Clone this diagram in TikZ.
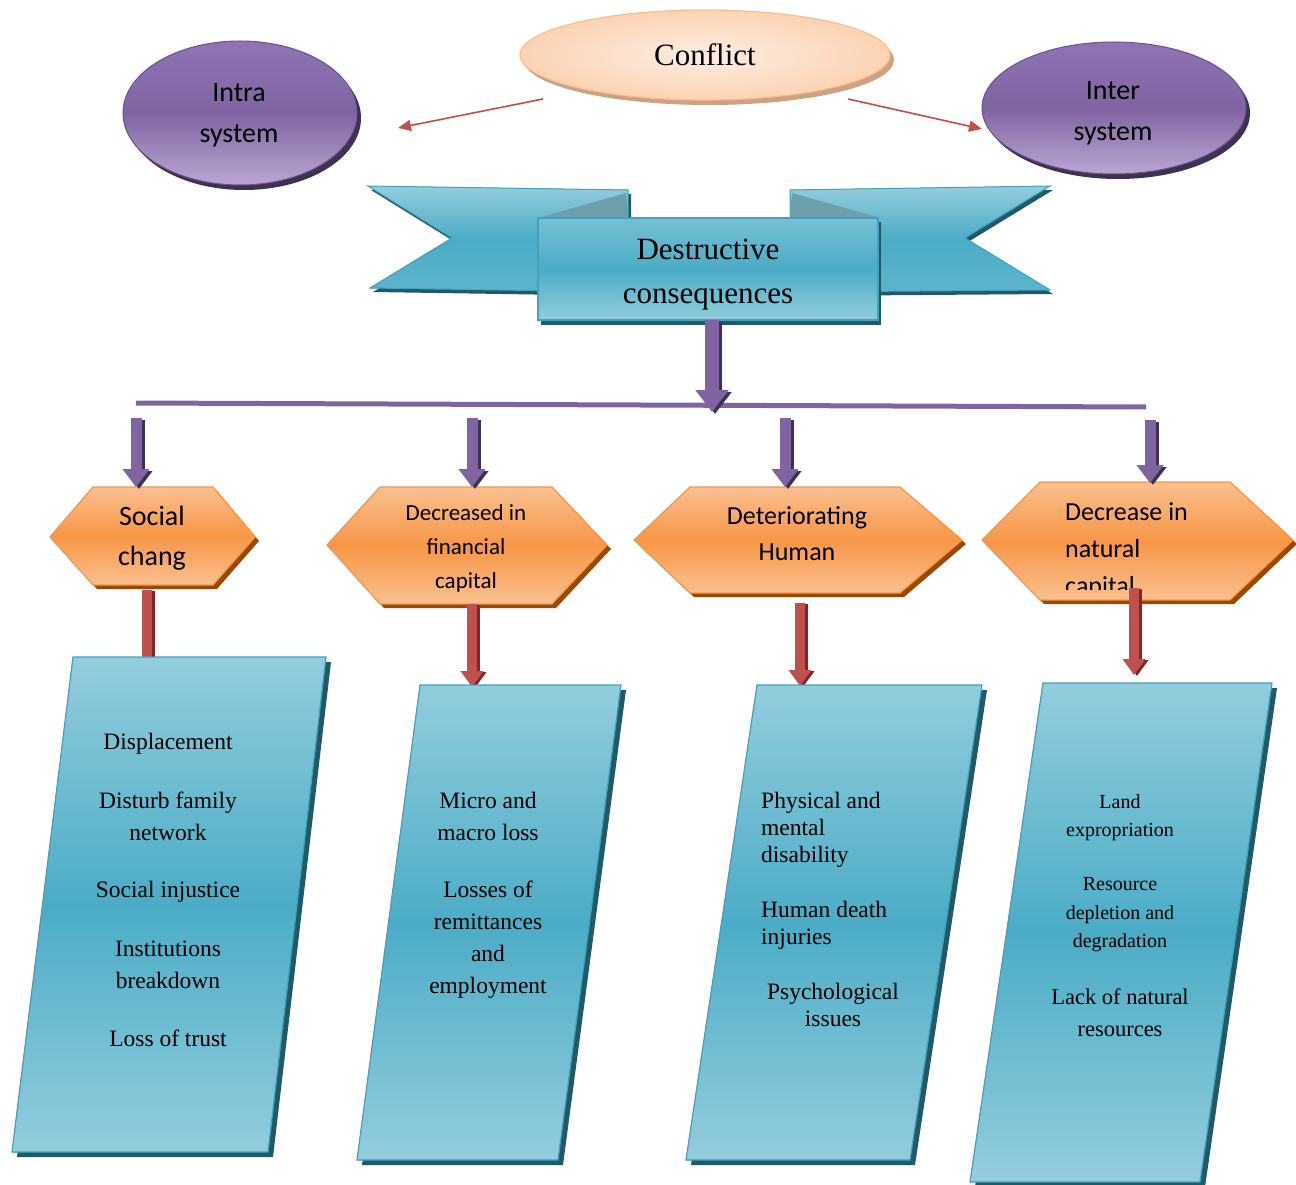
\documentclass[tikz,border=0pt]{standalone}
\usepackage{fontspec}
\setmainfont{Liberation Serif}
\newfontfamily\calfont{Carlito}
\usetikzlibrary{arrows.meta,shapes.geometric}
\definecolor{purM}{HTML}{8064A2}
\definecolor{purL}{HTML}{B9A7D2}
\definecolor{purT}{HTML}{8F74B4}
\definecolor{purD}{HTML}{3F3151}
\definecolor{purLine}{HTML}{6B5290}
\definecolor{orgM}{HTML}{F79646}
\definecolor{orgL}{HTML}{FAC090}
\definecolor{orgD}{HTML}{984807}
\definecolor{tealM}{HTML}{4BACC6}
\definecolor{tealL}{HTML}{93CDDD}
\definecolor{tealD}{HTML}{215968}
\definecolor{tealLine}{HTML}{3FA3BE}
\definecolor{tealFold}{HTML}{6E9FAD}
\definecolor{redM}{HTML}{C0504D}
\definecolor{redD}{HTML}{7A2A28}
\definecolor{peachIn}{HTML}{FDEDE2}
\definecolor{peachOut}{HTML}{FBD3B3}
\definecolor{peachLine}{HTML}{F9BE8F}
\definecolor{peachSh}{HTML}{CDA283}
\begin{document}
\begin{tikzpicture}[x=1pt,y=-1pt,
  purell/.style={ellipse, inner sep=0pt, top color=purT, bottom color=purL, middle color=purM, draw=purLine, line width=1pt},
  lbl/.style={align=center, inner sep=0pt, font=\calfont\fontsize{28}{41}\selectfont},
  hexfill/.style={top color=orgL, bottom color=orgL, middle color=orgM, draw=orgM, line width=1.2pt},
  hexsh/.style={fill=orgD},
  boxfill/.style={top color=tealL, bottom color=tealL, middle color=tealM, draw=tealLine, line width=1.2pt},
  boxsh/.style={fill=tealD},
  boxtxt/.style={align=center, inner sep=0pt, font=\fontsize{23.5}{32}\selectfont},
  hextxt/.style={align=center, inner sep=0pt},
  thinred/.style={draw=redM, line width=1.6pt, -{Triangle[width=11pt,length=13pt]}},
  parrow/.style={draw=purM, line width=11pt, -{Triangle[width=26pt,length=18pt]},
     preaction={draw=purD, line width=11pt, -{Triangle[width=26pt,length=18pt]}, transform canvas={shift={(3pt,-2pt)}}}},
  bigparrow/.style={draw=purM, line width=14pt, -{Triangle[width=32pt,length=22pt]},
     preaction={draw=purD, line width=14pt, -{Triangle[width=32pt,length=22pt]}, transform canvas={shift={(3pt,-2pt)}}}},
  rarrow/.style={draw=redM, line width=10pt, -{Triangle[width=22pt,length=16pt]},
     preaction={draw=redD, line width=10pt, -{Triangle[width=22pt,length=16pt]}, transform canvas={shift={(3pt,-1pt)}}}},
  rbar/.style={draw=redM, line width=10pt,
     preaction={draw=redD, line width=10pt, transform canvas={shift={(3pt,-1pt)}}}}
]
\useasboundingbox (0,0) rectangle (1296,1185);
\fill[white] (0,0) rectangle (1296,1185);

% ---------- Conflict ----------
\fill[peachSh] (709,60) ellipse [x radius=185pt, y radius=45pt];
\node[ellipse, inner sep=0pt, minimum width=370pt, minimum height=90pt, inner color=peachIn, outer color=peachOut, draw=peachLine, line width=1.2pt, font=\fontsize{31}{36}\selectfont] (conflict) at (705,55) {Conflict};

% ---------- Intra / Inter ----------
\fill[purD] (244,118) ellipse [x radius=117pt, y radius=72pt];
\node[purell, minimum width=234pt, minimum height=144pt] (intra) at (240,113) {};
\node[lbl] (intraT) at (239,115) {Intra\\system};
\fill[purD] (1118,113) ellipse [x radius=132pt, y radius=66pt];
\node[purell, minimum width=264pt, minimum height=132pt] (inter) at (1114,108) {};
\node[lbl] (interT) at (1113,113) {Inter\\system};

\coordinate (cL) at (543,99);
\coordinate (intraE) at (398,128);
\coordinate (cR) at (848,99);
\coordinate (interW) at (982,129);
\draw[thinred] (cL) -- (intraE);
\draw[thinred] (cR) -- (interW);

% ---------- Banner ----------
\fill[tealD, shift={(3,4)}] (368,186) -- (628,190) -- (628,292) -- (370,288) -- (452,238) -- cycle;
\fill[tealD, shift={(3,4)}] (790,190) -- (1050,186) -- (965,238) -- (1050,290) -- (790,292) -- cycle;
\filldraw[top color=tealL, bottom color=tealM!75!tealL, middle color=tealM, draw=tealLine, line width=1pt]
  (368,186) -- (628,190) -- (628,292) -- (370,288) -- (452,238) -- cycle;
\filldraw[top color=tealL, bottom color=tealM!75!tealL, middle color=tealM, draw=tealLine, line width=1pt]
  (790,190) -- (1050,186) -- (965,238) -- (1050,290) -- (790,292) -- cycle;
\fill[tealFold] (538,218) -- (626,193) -- (628,218) -- cycle;
\fill[tealFold] (880,218) -- (792,193) -- (790,218) -- cycle;
\fill[tealD] (541,222) rectangle (881,325);
\filldraw[top color=tealL!60!tealM, bottom color=tealL, middle color=tealM, draw=tealLine, line width=1.2pt] (538,218) rectangle (878,320);
\node[align=center, inner sep=0pt, font=\fontsize{31}{44}\selectfont] (dest) at (708,275) {Destructive\\consequences};

% ---------- Distribution bar ----------
\coordinate (barL) at (136,403);
\coordinate (barR) at (1146,407);
\coordinate (destB) at (712,320);
\coordinate (barM) at (712,412);
\draw[purM, line width=5pt] (barL) -- (barR);
\draw[bigparrow] (destB) -- (barM);

% ---------- Hexagons ----------
\fill[hexsh, shift={(4,4)}] (50,537) -- (93,487) -- (213,487) -- (255,537) -- (213,585) -- (93,585) -- cycle;
\filldraw[hexfill] (50,537) -- (93,487) -- (213,487) -- (255,537) -- (213,585) -- (93,585) -- cycle;
\node[hextxt, font=\calfont\fontsize{28}{40}\selectfont] (hx1) at (152,538) {Social\\chang};

\fill[hexsh, shift={(4,4)}] (327,545) -- (380,487) -- (552,487) -- (607,545) -- (552,604) -- (380,604) -- cycle;
\filldraw[hexfill] (327,545) -- (380,487) -- (552,487) -- (607,545) -- (552,604) -- (380,604) -- cycle;
\node[hextxt, font=\calfont\fontsize{23}{34}\selectfont] (hx2) at (466,548) {Decreased in\\financial\\capital};

\fill[hexsh, shift={(4,4)}] (634,540) -- (690,487) -- (900,487) -- (962,540) -- (900,593) -- (690,593) -- cycle;
\filldraw[hexfill] (634,540) -- (690,487) -- (900,487) -- (962,540) -- (900,593) -- (690,593) -- cycle;
\node[hextxt, font=\calfont\fontsize{26}{36}\selectfont] (hx3) at (797,534) {Deteriorating\\Human};

\fill[hexsh, shift={(4,4)}] (982,540) -- (1040,482) -- (1230,482) -- (1293,540) -- (1230,600) -- (1040,600) -- cycle;
\filldraw[hexfill] (982,540) -- (1040,482) -- (1230,482) -- (1293,540) -- (1230,600) -- (1040,600) -- cycle;
\begin{scope}
\clip (982,470) rectangle (1293,589);
\node[hextxt, font=\calfont\fontsize{26}{37}\selectfont, align=left, anchor=west] (hx4) at (1065,551) {Decrease in\\natural\\capital};
\end{scope}

% ---------- Purple arrows to hexagons ----------
\coordinate (b1) at (136,418); \coordinate (h1t) at (136,487);
\coordinate (b2) at (472,418); \coordinate (h2t) at (472,487);
\coordinate (b3) at (785,418); \coordinate (h3t) at (785,487);
\coordinate (b4) at (1150,420); \coordinate (h4t) at (1150,483);
\draw[parrow] (b1) -- (h1t);
\draw[parrow] (b2) -- (h2t);
\draw[parrow] (b3) -- (h3t);
\draw[parrow] (b4) -- (h4t);

% ---------- Red arrows to boxes ----------
\coordinate (h1b) at (147,590); \coordinate (p1t) at (147,657);
\coordinate (h2b) at (472,604); \coordinate (p2t) at (472,687);
\coordinate (h3b) at (800,603); \coordinate (p3t) at (800,686);
\coordinate (h4b) at (1134,588); \coordinate (p4t) at (1134,675);
\draw[rbar] (h1b) -- (p1t);
\draw[rarrow] (h2b) -- (p2t);
\draw[rarrow] (h3b) -- (p3t);

% ---------- Parallelograms ----------
\fill[boxsh, shift={(5,5)}] (73,657) -- (326,657) -- (268,1152) -- (12,1152) -- cycle;
\filldraw[boxfill] (73,657) -- (326,657) -- (268,1152) -- (12,1152) -- cycle;
\fill[boxsh, shift={(5,5)}] (420,685) -- (621,685) -- (558,1160) -- (357,1160) -- cycle;
\filldraw[boxfill] (420,685) -- (621,685) -- (558,1160) -- (357,1160) -- cycle;
\fill[boxsh, shift={(5,5)}] (757,685) -- (982,685) -- (910,1160) -- (686,1160) -- cycle;
\filldraw[boxfill] (757,685) -- (982,685) -- (910,1160) -- (686,1160) -- cycle;
\fill[boxsh, shift={(5,5)}] (1043,683) -- (1272,683) -- (1200,1182) -- (970,1182) -- cycle;
\filldraw[boxfill] (1043,683) -- (1272,683) -- (1200,1182) -- (970,1182) -- cycle;

\draw[rarrow] (h4b) -- (p4t);

% box 1 text
\node[boxtxt] (t11) at (168,744) {Displacement};
\node[boxtxt] (t12) at (168,816) {Disturb family\\network};
\node[boxtxt] (t13) at (168,892) {Social injustice};
\node[boxtxt] (t14) at (168,965) {Institutions\\breakdown};
\node[boxtxt] (t15) at (168,1038) {Loss of trust};
% box 2 text
\node[boxtxt] (t21) at (488,816) {Micro and\\macro loss};
\node[boxtxt] (t22) at (488,940) {Losses of\\remittances\\and\\employment};
% box 3 text
\node[boxtxt, align=left, anchor=west, font=\fontsize{23.5}{27}\selectfont] (t31) at (761,830) {Physical and\\mental\\disability};
\node[boxtxt, align=left, anchor=west, font=\fontsize{23.5}{27}\selectfont] (t32) at (761,925) {Human death\\injuries};
\node[boxtxt, font=\fontsize{23.5}{27}\selectfont] (t33) at (833,1005) {Psychological\\issues};
% box 4 text
\node[boxtxt, font=\fontsize{20}{28}\selectfont] (t41) at (1120,818) {Land\\expropriation};
\node[boxtxt, font=\fontsize{20}{28.5}\selectfont] (t42) at (1120,915) {Resource\\depletion and\\degradation};
\node[boxtxt, font=\fontsize{22.5}{32}\selectfont] (t43) at (1120,1013) {Lack of natural\\resources};
\end{tikzpicture}
\end{document}
